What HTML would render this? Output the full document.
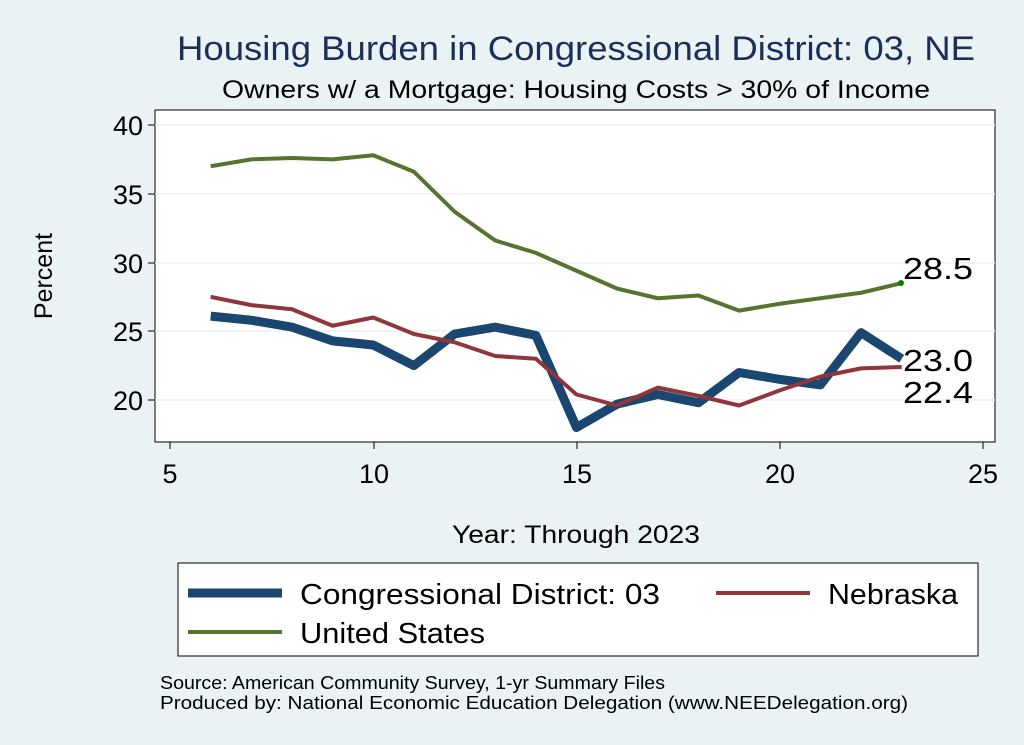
<!DOCTYPE html>
<html><head><meta charset="utf-8"><style>
html,body{margin:0;padding:0;background:#eaf2f3;}
svg{display:block;font-family:"Liberation Sans",Arial,sans-serif;}
</style></head><body>
<svg width="1024" height="745" viewBox="0 0 1024 745" xmlns="http://www.w3.org/2000/svg">
<rect x="0" y="0" width="1024" height="745" fill="#eaf2f3"/>
<text x="177" y="60" font-size="34" fill="#1a2f5a" textLength="798" lengthAdjust="spacingAndGlyphs">Housing Burden in Congressional District:  03, NE</text>
<text x="222" y="98" font-size="25" fill="#000" textLength="708" lengthAdjust="spacingAndGlyphs">Owners w/ a Mortgage: Housing Costs &gt; 30% of Income</text>
<rect x="155" y="110" width="840" height="332" fill="#fff" stroke="#000" stroke-width="1"/>
<g stroke="#eaf2f3" stroke-width="1.5">
<line x1="155" y1="125" x2="995" y2="125"/><line x1="155" y1="194" x2="995" y2="194"/>
<line x1="155" y1="263" x2="995" y2="263"/><line x1="155" y1="331" x2="995" y2="331"/>
<line x1="155" y1="400" x2="995" y2="400"/>
</g>
<g stroke="#000" stroke-width="1">
<line x1="148" y1="125" x2="155" y2="125"/><line x1="148" y1="194" x2="155" y2="194"/>
<line x1="148" y1="263" x2="155" y2="263"/><line x1="148" y1="331" x2="155" y2="331"/>
<line x1="148" y1="400" x2="155" y2="400"/>
<line x1="170" y1="442" x2="170" y2="449"/><line x1="374" y1="442" x2="374" y2="449"/>
<line x1="577" y1="442" x2="577" y2="449"/><line x1="780" y1="442" x2="780" y2="449"/>
<line x1="983" y1="442" x2="983" y2="449"/>
</g>
<g font-size="27" text-anchor="end" fill="#000">
<text x="143" y="135">40</text><text x="143" y="204">35</text><text x="143" y="273">30</text>
<text x="143" y="341">25</text><text x="143" y="410">20</text>
</g>
<g font-size="27" text-anchor="middle" fill="#000">
<text x="170" y="483">5</text><text x="374" y="483">10</text><text x="577" y="483">15</text>
<text x="780" y="483">20</text><text x="983" y="483">25</text>
</g>
<text x="52" y="276" font-size="25" text-anchor="middle" transform="rotate(-90 52 276)">Percent</text>
<text x="452" y="543" font-size="25" textLength="248" lengthAdjust="spacingAndGlyphs">Year: Through 2023</text>
<g transform="translate(170,400) scale(40.65,-13.75) translate(-5,-20)" fill="none" stroke-linejoin="round">
<polyline vector-effect="non-scaling-stroke" stroke="#55752f" stroke-width="4" points="6,37 7,37.5 8,37.6 9,37.5 10,37.8 11,36.6 12,33.7 13,31.6 14,30.7 15,29.4 16,28.1 17,27.4 18,27.6 19,26.5 20,27 21,27.4 22,27.8 23,28.5"/>
<polyline vector-effect="non-scaling-stroke" stroke="#1a476f" stroke-width="9" points="6,26.1 7,25.8 8,25.3 9,24.3 10,24 11,22.5 12,24.8 13,25.3 14,24.7 15,18 16,19.7 17,20.4 18,19.8 19,22 20,21.5 21,21.1 22,24.9 23,23"/>
<polyline vector-effect="non-scaling-stroke" stroke="#90353b" stroke-width="4" points="6,27.5 7,26.9 8,26.6 9,25.4 10,26 11,24.8 12,24.2 13,23.2 14,23 15,20.4 16,19.6 17,20.9 18,20.3 19,19.6 20,20.7 21,21.7 22,22.3 23,22.4"/>
</g>
<circle cx="901" cy="283" r="3" fill="#008000"/>
<g font-size="31" fill="#000">
<text x="903" y="279" textLength="70" lengthAdjust="spacingAndGlyphs">28.5</text>
<text x="903" y="371" textLength="70" lengthAdjust="spacingAndGlyphs">23.0</text>
<text x="903" y="403" textLength="70" lengthAdjust="spacingAndGlyphs">22.4</text>
</g>
<rect x="178" y="563" width="800" height="93" fill="#fff" stroke="#000" stroke-width="1"/>
<line x1="188" y1="593" x2="282" y2="593" stroke="#1a476f" stroke-width="9"/>
<text x="300" y="604" font-size="29" textLength="360" lengthAdjust="spacingAndGlyphs">Congressional District:  03</text>
<line x1="716" y1="593" x2="810" y2="593" stroke="#90353b" stroke-width="4"/>
<text x="828" y="604" font-size="29" textLength="130" lengthAdjust="spacingAndGlyphs">Nebraska</text>
<line x1="188" y1="632" x2="282" y2="632" stroke="#55752f" stroke-width="4"/>
<text x="300" y="643" font-size="29" textLength="185" lengthAdjust="spacingAndGlyphs">United States</text>
<text x="160" y="689" font-size="18" textLength="505" lengthAdjust="spacingAndGlyphs">Source: American Community Survey, 1-yr Summary Files</text>
<text x="160" y="709" font-size="18" textLength="748" lengthAdjust="spacingAndGlyphs">Produced by: National Economic Education Delegation (www.NEEDelegation.org)</text>
</svg>
</body></html>
